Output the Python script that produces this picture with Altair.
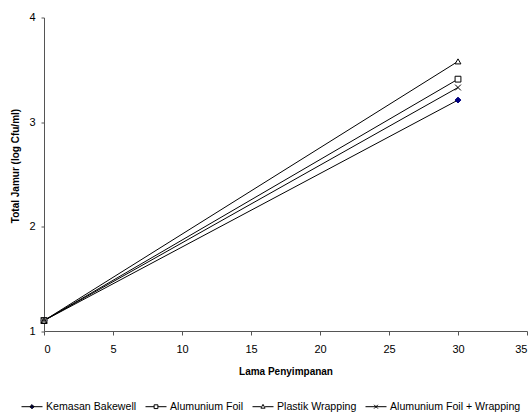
import altair as alt
import pandas as pd

series_names = ["Kemasan Bakewell", "Alumunium Foil", "Plastik Wrapping", "Alumunium Foil + Wrapping"]
days = [0, 30]
kemasan_bakewell = [1.10, 3.21]
alumunium_foil = [1.10, 3.41]
plastik_wrapping = [1.10, 3.58]
alumunium_foil_wrapping = [1.10, 3.33]

values = [kemasan_bakewell, alumunium_foil, plastik_wrapping, alumunium_foil_wrapping]
rows = []
for name, vals in zip(series_names, values):
    for d, v in zip(days, vals):
        rows.append({"series": name, "x": d, "y": v})
df = pd.DataFrame(rows)

marker_shapes = ["diamond", "square", "triangle-up", "M-1,-1L1,1M-1,1L1,-1"]
legend_shapes = [
    "M-1,0H1M0,-0.2L0.2,0L0,0.2L-0.2,0Z",
    "M-1,0H-0.18M0.18,0H1M-0.18,-0.18H0.18V0.18H-0.18Z",
    "M-1,0H-0.2M0.2,0H1M0,-0.22L0.2,0.14H-0.2Z",
    "M-1,0H1M-0.18,-0.18L0.18,0.18M-0.18,0.18L0.18,-0.18",
]
fills = ["#000080", "white", "white", "white"]
strokes = ["#000080", "black", "black", "black"]

FONT = "Liberation Sans"

x_enc = alt.X("x:Q", scale=alt.Scale(domain=[0, 35], nice=False),
              axis=alt.Axis(values=[0, 5, 10, 15, 20, 25, 30, 35], title="Lama Penyimpanan",
                            grid=False, tickSize=4, labelPadding=8, titlePadding=12))
y_enc = alt.Y("y:Q", scale=alt.Scale(domain=[1, 4], nice=False, zero=False),
              axis=alt.Axis(values=[1, 2, 3, 4], title="Total Jamur (log Cfu/ml)",
                            grid=False, tickSize=3, labelPadding=6, titlePadding=8, titleY=148))

base = alt.Chart(df)

lines = base.mark_line(color="black", strokeWidth=1).encode(
    x=x_enc, y=y_enc, detail="series:N"
)

markers = base.mark_point(size=34, opacity=1, strokeWidth=1).encode(
    x=x_enc, y=y_enc,
    shape=alt.Shape("series:N", scale=alt.Scale(domain=series_names, range=marker_shapes), legend=None),
    fill=alt.Fill("series:N", scale=alt.Scale(domain=series_names, range=fills), legend=None),
    stroke=alt.Stroke("series:N", scale=alt.Scale(domain=series_names, range=strokes), legend=None),
)

leg = alt.Legend(title=None, orient="none", legendX=-23, legendY=378, direction="horizontal",
                 symbolSize=441, symbolStrokeWidth=1, labelFont=FONT, labelFontSize=10.6,
                 labelColor="black", labelOffset=3, columnPadding=6, padding=0)

legend_layer = base.transform_filter("datum.x < 0").mark_point(size=34, opacity=1, strokeWidth=1).encode(
    x=x_enc, y=y_enc,
    shape=alt.Shape("series:N", scale=alt.Scale(domain=series_names, range=legend_shapes), legend=leg),
    fill=alt.Fill("series:N", scale=alt.Scale(domain=series_names, range=fills), legend=leg),
    stroke=alt.Stroke("series:N", scale=alt.Scale(domain=series_names, range=["black"] * 4), legend=leg),
)

chart = alt.layer(lines, markers, legend_layer).resolve_scale(
    shape="independent", fill="independent", stroke="independent"
).properties(
    width=483, height=313.5,
    autosize=alt.AutoSizeParams(type="none"),
    padding={"left": 44, "top": 17.5, "right": 5, "bottom": 81},
).configure_view(stroke=None).configure_axis(
    domainColor="#555555", tickColor="#555555", labelFont=FONT, titleFont=FONT,
    labelFontSize=11, titleFontSize=10, titleFontWeight="bold", labelColor="black", titleColor="black",
    domainWidth=1, tickWidth=1
)

chart.save("out.html", embed_options={"renderer": "svg", "actions": False})
